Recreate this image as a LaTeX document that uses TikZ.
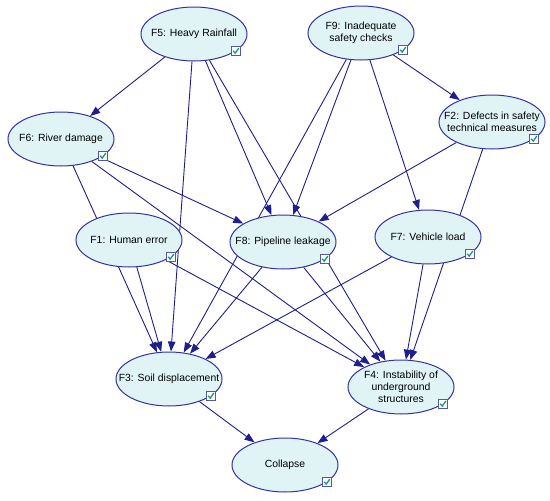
\documentclass[tikz,border=0pt]{standalone}
\usepackage{fontspec}
\setmainfont{Liberation Sans}
\usepackage{xcolor}
\usepackage{tikz}
\usetikzlibrary{arrows.meta,calc,shapes.geometric,backgrounds}

\definecolor{navy}{RGB}{30,30,140}
\definecolor{rim}{RGB}{50,50,165}
\definecolor{cyanfill}{RGB}{224,244,246}
\definecolor{tickcol}{RGB}{20,150,130}
\definecolor{boxcol}{RGB}{85,85,175}

\begin{document}
\begin{tikzpicture}[x=1pt, y=-1pt,
   factor/.style={ellipse, draw=rim, fill=cyanfill, line width=1pt,
                  minimum width=106pt, minimum height=54pt,
                  inner xsep=-15pt, inner ysep=0pt, align=center,
                  font=\fontsize{10.4}{12}\selectfont},
   chk/.style={draw=boxcol, fill=white, line width=0.8pt,
               minimum size=9pt, inner sep=0pt},
   tick/.style={draw=tickcol, line width=1.3pt},
   link/.style={->, draw=navy, line width=0.9pt},
   >={Triangle[length=10pt,width=7.5pt]}]
\useasboundingbox (0,0) rectangle (550,501);
\node[factor] (f5) at (194,34) {F5: Heavy Rainfall};
\node[factor] (f9) at (361,33) {F9: Inadequate\\safety checks};
\node[factor] (f6) at (61,139) {F6: River damage};
\node[factor] (f2) at (492,122) {F2: Defects in safety\\technical measures};
\node[factor] (f1) at (129,240) {F1: Human error};
\node[factor] (f8) at (283,242) {F8: Pipeline leakage};
\node[factor] (f7) at (428,237) {F7: Vehicle load};
\node[factor] (f3) at (169,379) {F3: Soil displacement};
\node[factor] (f4) at (401,387) {F4: Instability of\\underground\\structures};
\node[factor] (col) at (285,465) {Collapse};
% state check boxes
\foreach \n in {f5,f9,f6,f2,f1,f8,f7,f3,f4,col} {
  \node[chk] (\n-chk) at ($(\n)+(42,17)$) {};
  \draw[tick] ($(\n-chk)+(-2.8,-0.2)$) -- ++(2,2.3) -- ++(3.6,-5);
}
\begin{pgfonlayer}{background}
\foreach \a/\b in {f5/f6,f5/f3,f5/f8,f5/f4,f9/f8,f9/f3,f9/f7,f9/f2,
                   f6/f8,f6/f3,f6/f4,f2/f8,f2/f4,f1/f3,f1/f4,
                   f8/f3,f8/f4,f7/f3,f7/f4,f3/col,f4/col}
  \draw[link] (\a) -- (\b);
\end{pgfonlayer}
\end{tikzpicture}
\end{document}
